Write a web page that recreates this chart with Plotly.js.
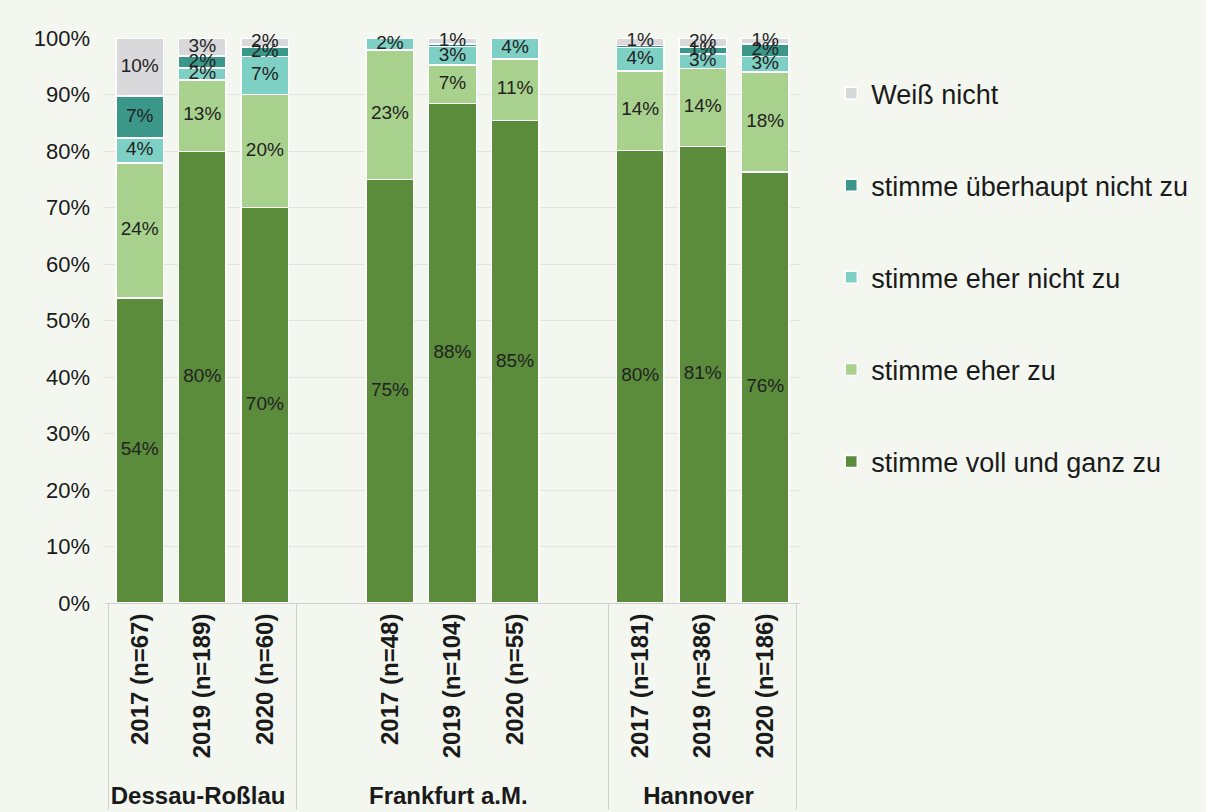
<!DOCTYPE html>
<html>
<head>
<meta charset="utf-8">
<script src="https://cdn.plot.ly/plotly-3.0.1.min.js"></script>
<style>
  html, body { margin: 0; padding: 0; background: #f3f7f0; }
  #chart { width: 1206px; height: 812px; }
</style>
</head>
<body>
<div id="chart"></div>
<script>
// Categories (blank slots in Frankfurt group as in the original)
const groups = ['Dessau-Roßlau','Dessau-Roßlau','Dessau-Roßlau',
  'Frankfurt a.M.','Frankfurt a.M.','Frankfurt a.M.','Frankfurt a.M.','Frankfurt a.M.',
  'Hannover','Hannover','Hannover'];
const years = ['2017 (n=67)','2019 (n=189)','2020 (n=60)',
  ' ','2017 (n=48)','2019 (n=104)','2020 (n=55)','  ',
  '2017 (n=181)','2019 (n=386)','2020 (n=186)'];

// Series values (%)
const vollUndGanz     = [54.0, 79.9, 70.0, null, 75.0, 88.4, 85.4, null, 80.1, 80.8, 76.3];
const eherZu          = [23.9, 12.7, 20.0, null, 22.9,  6.8, 10.9, null, 14.1, 13.8, 17.7];
const eherNicht       = [ 4.4,  2.1,  6.7, null,  2.1,  3.3,  3.7, null,  4.1,  2.6,  2.7];
const ueberhauptNicht = [ 7.4,  2.1,  1.7, null,  0.0,  0.4,  0.0, null,  0.4,  1.2,  2.2];
const weissNicht      = [10.3,  3.2,  1.6, null,  0.0,  1.1,  0.0, null,  1.3,  1.6,  1.1];

const seriesNames = ['stimme voll und ganz zu','stimme eher zu','stimme eher nicht zu',
  'stimme überhaupt nicht zu','Weiß nicht'];
const seriesValues = [vollUndGanz, eherZu, eherNicht, ueberhauptNicht, weissNicht];
const seriesColors = ['#5b8c3c','#a9d18e','#7fd0c4','#3a978a','#d9d9db'];

const fontFam = '"Liberation Sans", Arial, sans-serif';

const barTraces = seriesValues.map((vals, i) => ({
  type: 'bar',
  name: seriesNames[i],
  legendgroup: 'g' + i,
  legendrank: 1000 - i,
  x: [groups, years],
  y: vals,
  marker: { color: seriesColors[i], line: { color: '#ffffff', width: 1.5 } },
  hoverinfo: 'skip'
}));

// Segment labels, placed at the middle of each stacked segment
const base = years.map(() => 0);
const labelTraces = seriesValues.map((vals, i) => {
  const mids = vals.map((v, k) => {
    if (v === null) return null;
    const m = base[k] + v / 2;
    base[k] += v;
    return m;
  });
  return {
    type: 'scatter',
    mode: 'text',
    x: [groups, years],
    y: mids,
    text: vals.map(v => (v === null || Math.round(v) === 0) ? '' : Math.round(v) + '%'),
    textposition: 'middle center',
    textfont: { family: fontFam, size: 19, color: '#222222' },
    cliponaxis: false,
    showlegend: false,
    hoverinfo: 'skip'
  };
});

const layout = {
  width: 1206,
  height: 812,
  paper_bgcolor: '#f3f7f0',
  plot_bgcolor: '#f3f7f0',
  barmode: 'stack',
  bargap: 0.24,
  margin: { l: 105, r: 406, t: 38, b: 209 },
  font: { family: fontFam, color: '#1a1a1a' },
  showlegend: true,
  legend: {
    x: 1.045, xanchor: 'left',
    y: 0.945, yanchor: 'top',
    traceorder: 'grouped',
    tracegroupgap: 54,
    font: { family: fontFam, size: 27, color: '#1a1a1a' },
    bgcolor: 'rgba(0,0,0,0)'
  },
  xaxis: {
    type: 'multicategory',
    tickangle: -90,
    tickfont: { family: fontFam, size: 24, color: '#1a1a1a', weight: 'bold' },
    showdividers: true,
    dividercolor: '#cfcfcf',
    dividerwidth: 1,
    showline: true,
    linecolor: '#d0d0d0',
    linewidth: 1,
    showgrid: false,
    ticks: ''
  },
  yaxis: {
    range: [0, 100],
    dtick: 10,
    ticksuffix: '%',
    tickfont: { family: fontFam, size: 22, color: '#1a1a1a' },
    showgrid: true,
    gridcolor: '#e2e4e0',
    gridwidth: 1,
    zeroline: false,
    showline: false,
    ticklabelstandoff: 14
  }
};

Plotly.newPlot('chart', barTraces.concat(labelTraces), layout, { displayModeBar: false, staticPlot: true });
</script>
</body>
</html>
